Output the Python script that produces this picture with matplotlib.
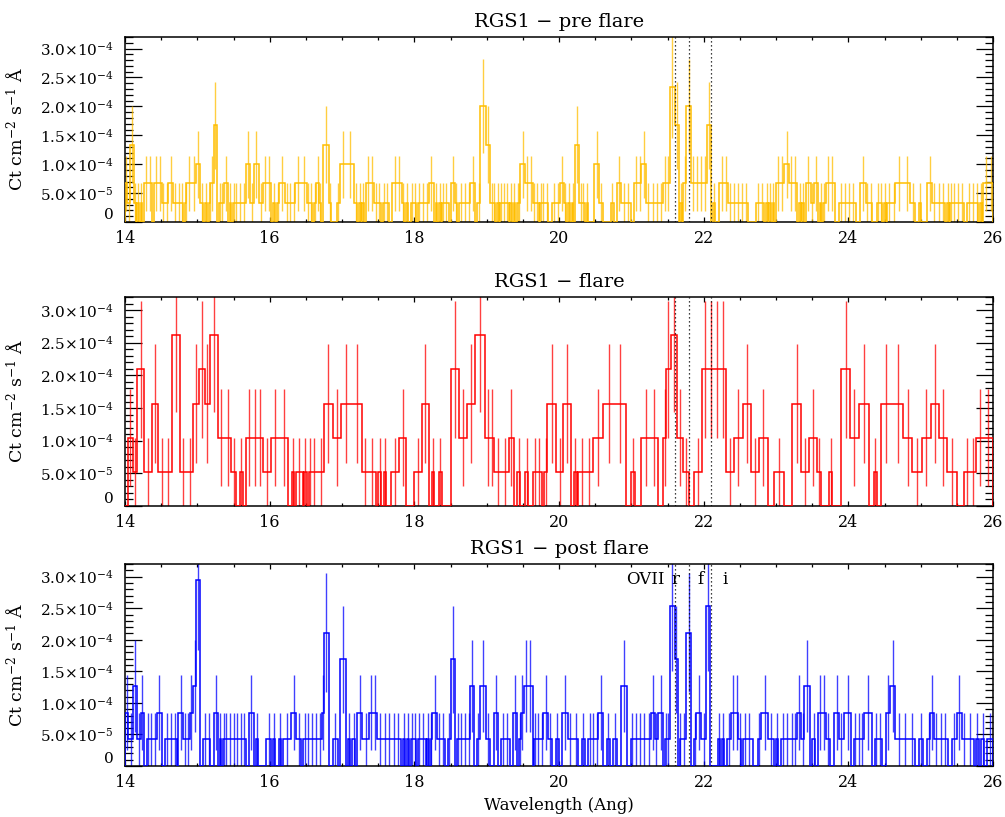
import numpy as np
import matplotlib
matplotlib.use("Agg")
import matplotlib.pyplot as plt
from matplotlib.ticker import MultipleLocator

plt.rcParams['font.family'] = ['DejaVu Serif']
plt.rcParams['mathtext.fontset'] = 'dejavuserif'

# Flux carried by a single detected count in each interval
pre_unit = 3.34e-5
flare_unit = 5.23e-5
post_unit = 4.22e-5
wave_max = 26.0

# ---- RGS1 pre flare: bin left edges (Ang) and counts per bin ----
pre_left = [
    14.000, 14.032, 14.069, 14.124, 14.147, 14.170, 14.193, 14.216, 14.239, 14.262,
    14.321, 14.376, 14.404, 14.455, 14.505, 14.551, 14.597, 14.666, 14.721, 14.776,
    14.803, 14.826, 14.849, 14.918, 14.987, 15.042, 15.079, 15.107, 15.134, 15.157,
    15.180, 15.226, 15.272, 15.295, 15.318, 15.364, 15.423, 15.446, 15.469, 15.492,
    15.515, 15.566, 15.616, 15.667, 15.722, 15.777, 15.850, 15.905, 15.960, 16.020,
    16.043, 16.071, 16.098, 16.126, 16.218, 16.264, 16.309, 16.355, 16.433, 16.511,
    16.548, 16.585, 16.612, 16.640, 16.686, 16.713, 16.741, 16.815, 16.842, 16.870,
    16.925, 16.971, 17.067, 17.168, 17.214, 17.237, 17.260, 17.283, 17.306, 17.329,
    17.384, 17.444, 17.489, 17.535, 17.567, 17.604, 17.650, 17.696, 17.760, 17.825,
    17.857, 17.889, 17.916, 17.949, 17.995, 18.027, 18.055, 18.087, 18.146, 18.201,
    18.270, 18.293, 18.316, 18.339, 18.362, 18.385, 18.408, 18.477, 18.509, 18.569,
    18.596, 18.624, 18.674, 18.725, 18.775, 18.835, 18.867, 18.913, 18.991, 19.051,
    19.083, 19.120, 19.143, 19.166, 19.189, 19.211, 19.257, 19.303, 19.326, 19.349,
    19.372, 19.395, 19.418, 19.441, 19.464, 19.533, 19.583, 19.634, 19.675, 19.717,
    19.740, 19.762, 19.808, 19.854, 19.900, 19.955, 20.015, 20.075, 20.102, 20.130,
    20.153, 20.176, 20.199, 20.222, 20.281, 20.318, 20.359, 20.382, 20.405, 20.428,
    20.488, 20.552, 20.612, 20.717, 20.754, 20.795, 20.864, 20.928, 20.993, 21.039,
    21.089, 21.140, 21.209, 21.264, 21.323, 21.378, 21.438, 21.484, 21.530, 21.599,
    21.654, 21.677, 21.700, 21.714, 21.759, 21.828, 21.884, 21.939, 21.989, 22.049,
    22.104, 22.127, 22.150, 22.218, 22.278, 22.333, 22.388, 22.443, 22.498, 22.554,
    22.609, 22.723, 22.783, 22.838, 22.861, 22.884, 22.907, 22.930, 22.953, 22.976,
    22.999, 23.059, 23.114, 23.183, 23.242, 23.297, 23.320, 23.343, 23.366, 23.389,
    23.412, 23.481, 23.527, 23.582, 23.605, 23.628, 23.651, 23.688, 23.747, 23.811,
    23.871, 23.926, 23.986, 24.041, 24.101, 24.160, 24.238, 24.284, 24.330, 24.390,
    24.431, 24.468, 24.491, 24.514, 24.537, 24.597, 24.652, 24.753, 24.858, 24.927,
    24.973, 25.005, 25.088, 25.161, 25.221, 25.281, 25.340, 25.363, 25.386, 25.409,
    25.432, 25.487, 25.542, 25.593, 25.639, 25.694, 25.749, 25.799, 25.822, 25.845,
    25.868, 25.937,
]
pre_counts = [
    2, 1, 4, 1, 0, 1, 0, 1, 0, 2,
    2, 0, 2, 2, 1, 1, 2, 1, 1, 1,
    0, 1, 2, 2, 3, 1, 0, 1, 0, 1,
    2, 5, 0, 1, 1, 2, 0, 1, 0, 1,
    1, 1, 1, 3, 1, 3, 1, 2, 2, 0,
    1, 0, 1, 2, 1, 1, 1, 2, 2, 1,
    1, 0, 1, 2, 1, 0, 4, 1, 0, 0,
    1, 3, 3, 1, 0, 1, 0, 1, 0, 2,
    2, 1, 1, 0, 1, 1, 0, 2, 2, 1,
    0, 1, 0, 1, 1, 0, 1, 1, 1, 2,
    0, 1, 0, 1, 0, 1, 1, 0, 2, 1,
    0, 1, 1, 1, 2, 0, 1, 6, 4, 1,
    1, 0, 1, 0, 1, 1, 1, 0, 1, 0,
    1, 0, 1, 1, 3, 2, 2, 1, 1, 0,
    1, 1, 1, 0, 1, 1, 2, 1, 0, 1,
    0, 1, 0, 4, 1, 1, 0, 1, 0, 0,
    3, 1, 0, 1, 0, 2, 1, 1, 0, 2,
    2, 3, 1, 1, 1, 1, 2, 2, 7, 5,
    0, 1, 0, 2, 6, 2, 2, 2, 2, 5,
    0, 1, 0, 2, 2, 1, 1, 1, 1, 1,
    0, 1, 1, 0, 1, 0, 1, 0, 1, 0,
    2, 2, 3, 2, 2, 0, 1, 0, 1, 0,
    2, 1, 2, 0, 1, 0, 1, 2, 2, 0,
    1, 1, 1, 1, 0, 2, 1, 1, 0, 1,
    1, 0, 1, 0, 1, 1, 2, 2, 1, 0,
    1, 0, 2, 1, 1, 1, 0, 1, 0, 1,
    1, 1, 1, 0, 1, 1, 1, 0, 1, 0,
    2, 2,
]

# ---- RGS1 flare ----
flare_left = [
    14.000, 14.037, 14.115, 14.170, 14.262, 14.367, 14.459, 14.551, 14.643, 14.758,
    14.849, 14.941, 15.019, 15.102, 15.171, 15.286, 15.377, 15.469, 15.538, 15.584,
    15.630, 15.676, 15.754, 15.832, 15.905, 16.020, 16.135, 16.250, 16.309, 16.337,
    16.365, 16.456, 16.479, 16.511, 16.539, 16.571, 16.663, 16.755, 16.870, 16.984,
    17.127, 17.274, 17.370, 17.466, 17.503, 17.535, 17.581, 17.613, 17.673, 17.788,
    17.889, 17.994, 18.100, 18.201, 18.238, 18.270, 18.339, 18.384, 18.500, 18.614,
    18.729, 18.835, 18.982, 19.050, 19.105, 19.202, 19.303, 19.372, 19.418, 19.464,
    19.533, 19.578, 19.647, 19.693, 19.762, 19.799, 19.840, 19.955, 20.061, 20.162,
    20.212, 20.244, 20.267, 20.368, 20.473, 20.611, 20.767, 20.923, 20.992, 21.047,
    21.139, 21.253, 21.368, 21.437, 21.483, 21.543, 21.630, 21.713, 21.804, 21.873,
    21.974, 22.057, 22.139, 22.222, 22.309, 22.424, 22.539, 22.653, 22.768, 22.883,
    22.975, 23.113, 23.227, 23.342, 23.457, 23.562, 23.618, 23.732, 23.778, 23.902,
    24.022, 24.146, 24.283, 24.352, 24.398, 24.448, 24.604, 24.760, 24.884, 25.022,
    25.136, 25.251, 25.366, 25.504, 25.596, 25.687, 25.770, 25.871,
]
flare_counts = [
    0, 2, 1, 4, 1, 3, 1, 1, 5, 1,
    1, 3, 4, 3, 5, 2, 2, 1, 0, 1,
    0, 2, 2, 2, 1, 2, 2, 0, 1, 0,
    1, 0, 1, 0, 1, 1, 1, 3, 2, 3,
    3, 1, 1, 0, 1, 0, 1, 0, 1, 2,
    0, 1, 3, 0, 1, 0, 1, 0, 4, 2,
    3, 5, 2, 2, 1, 1, 2, 0, 1, 0,
    1, 0, 1, 1, 0, 1, 3, 1, 3, 0,
    1, 0, 1, 1, 2, 3, 3, 0, 1, 0,
    2, 2, 0, 2, 4, 5, 2, 1, 0, 1,
    4, 4, 4, 4, 1, 2, 3, 1, 2, 0,
    1, 0, 3, 1, 2, 1, 0, 1, 0, 4,
    2, 3, 0, 1, 0, 3, 3, 2, 1, 2,
    3, 2, 1, 0, 1, 1, 2, 2,
]

# ---- RGS1 post flare ----
post_left = [
    14.000, 14.046, 14.115, 14.161, 14.216, 14.262, 14.298, 14.335, 14.386, 14.436,
    14.505, 14.551, 14.606, 14.657, 14.712, 14.735, 14.803, 14.849, 14.895, 14.941,
    14.987, 15.042, 15.079, 15.129, 15.180, 15.226, 15.281, 15.309, 15.331, 15.354,
    15.377, 15.428, 15.478, 15.529, 15.579, 15.630, 15.667, 15.713, 15.781, 15.813,
    15.841, 15.951, 16.020, 16.052, 16.080, 16.126, 16.158, 16.181, 16.296, 16.365,
    16.433, 16.466, 16.502, 16.557, 16.612, 16.668, 16.723, 16.755, 16.815, 16.870,
    16.939, 16.971, 17.053, 17.080, 17.108, 17.145, 17.173, 17.214, 17.283, 17.375,
    17.430, 17.489, 17.558, 17.623, 17.687, 17.751, 17.811, 17.843, 17.870, 17.898,
    17.926, 17.953, 17.995, 18.027, 18.055, 18.087, 18.156, 18.179, 18.201, 18.224,
    18.247, 18.316, 18.362, 18.422, 18.468, 18.500, 18.569, 18.592, 18.615, 18.670,
    18.725, 18.775, 18.830, 18.867, 18.904, 18.991, 19.051, 19.097, 19.156, 19.202,
    19.257, 19.317, 19.363, 19.423, 19.450, 19.473, 19.510, 19.570, 19.634, 19.661,
    19.684, 19.735, 19.785, 19.854, 19.909, 19.955, 20.001, 20.047, 20.120, 20.194,
    20.267, 20.313, 20.359, 20.405, 20.451, 20.497, 20.543, 20.612, 20.658, 20.704,
    20.749, 20.795, 20.864, 20.947, 20.993, 21.039, 21.094, 21.149, 21.209, 21.268,
    21.323, 21.369, 21.438, 21.461, 21.484, 21.539, 21.599, 21.645, 21.668, 21.691,
    21.759, 21.828, 21.861, 21.897, 21.966, 22.035, 22.094, 22.195, 22.223, 22.251,
    22.278, 22.324, 22.379, 22.430, 22.480, 22.517, 22.549, 22.586, 22.678, 22.746,
    22.792, 22.893, 22.967, 22.999, 23.026, 23.068, 23.127, 23.187, 23.242, 23.288,
    23.352, 23.389, 23.472, 23.504, 23.541, 23.582, 23.637, 23.688, 23.747, 23.802,
    23.871, 23.940, 24.041, 24.078, 24.114, 24.170, 24.216, 24.330, 24.362, 24.399,
    24.468, 24.514, 24.574, 24.652, 24.743, 24.835, 24.927, 24.973, 25.028, 25.088,
    25.134, 25.189, 25.248, 25.308, 25.372, 25.432, 25.501, 25.570, 25.639, 25.731,
    25.767, 25.804, 25.841, 25.878, 25.914,
]
post_counts = [
    2, 1, 3, 1, 2, 0, 1, 1, 1, 2,
    0, 1, 1, 1, 0, 2, 1, 1, 2, 3,
    7, 0, 1, 1, 0, 2, 0, 1, 0, 1,
    1, 1, 1, 1, 1, 1, 0, 2, 0, 1,
    0, 1, 0, 1, 0, 1, 0, 1, 2, 1,
    0, 1, 1, 1, 1, 1, 2, 5, 0, 1,
    0, 4, 0, 1, 0, 1, 0, 2, 1, 2,
    2, 1, 1, 1, 1, 1, 0, 1, 0, 1,
    0, 1, 1, 0, 1, 1, 0, 1, 0, 1,
    2, 1, 1, 0, 1, 4, 0, 1, 1, 1,
    1, 3, 0, 1, 3, 1, 0, 2, 0, 1,
    1, 0, 2, 0, 1, 2, 3, 3, 0, 1,
    1, 1, 2, 1, 0, 1, 0, 2, 1, 1,
    0, 1, 0, 1, 1, 1, 2, 0, 1, 0,
    1, 0, 3, 0, 1, 1, 1, 1, 1, 2,
    1, 2, 0, 1, 1, 6, 4, 0, 1, 1,
    5, 0, 1, 2, 1, 6, 0, 1, 0, 1,
    0, 1, 2, 2, 1, 0, 1, 1, 0, 1,
    2, 1, 0, 1, 0, 1, 1, 1, 1, 2,
    1, 3, 0, 1, 0, 2, 2, 1, 0, 2,
    1, 2, 0, 1, 1, 1, 2, 0, 1, 1,
    0, 2, 3, 1, 1, 1, 0, 1, 0, 1,
    2, 1, 1, 1, 0, 1, 2, 1, 1, 0,
    1, 0, 1, 0, 1,
]

# O VII triplet rest wavelengths and their labels
ovii_lines = [21.60, 21.80, 22.10]
ovii_label_x = [21.19, 21.61, 21.95, 22.29]
ovii_label_text = ["OVII", "r", "f", "i"]

panel_titles = ["RGS1 \u2212 pre flare", "RGS1 \u2212 flare", "RGS1 \u2212 post flare"]
panel_colors = ["#FFBE00", "#FF0000", "#0000FF"]

ytick_vals = [0, 5e-5, 1e-4, 1.5e-4, 2e-4, 2.5e-4, 3e-4]
ytick_labels = ["0", "5.0\u00d710$^{-5}$", "1.0\u00d710$^{-4}$",
                "1.5\u00d710$^{-4}$", "2.0\u00d710$^{-4}$",
                "2.5\u00d710$^{-4}$", "3.0\u00d710$^{-4}$"]

W, H = 1005, 817
fig = plt.figure(figsize=(W / 100, H / 100), dpi=100)

# axes boxes in pixels: (top, bottom)
boxes = [(37, 222), (297, 506), (564, 766)]
x0, x1 = 125, 993

datasets = [
    (pre_left, pre_counts, pre_unit),
    (flare_left, flare_counts, flare_unit),
    (post_left, post_counts, post_unit),
]

for i, ((top, bot), (left, counts, unit)) in enumerate(zip(boxes, datasets)):
    assert len(left) == len(counts)
    ax = fig.add_axes([x0 / W, 1 - bot / H, (x1 - x0) / W, (bot - top) / H])
    color = panel_colors[i]

    edges = np.append(np.asarray(left, float), wave_max)
    n = np.asarray(counts, float)
    flux = n * unit
    err = np.sqrt(n) * unit
    centers = 0.5 * (edges[:-1] + edges[1:])
    has = n > 0
    ax.vlines(centers[has], (flux - err)[has], (flux + err)[has],
              color=color, lw=1.0, alpha=0.75, zorder=2)
    ax.stairs(flux, edges, color=color, lw=1.1, zorder=3)

    for xl in ovii_lines:
        ax.axvline(xl, color="black", lw=0.9, ls=(0, (1, 2.2)), zorder=4)

    ax.set_xlim(14, 26)
    ax.set_ylim(0, 3.2e-4)
    ax.xaxis.set_major_locator(MultipleLocator(2))
    ax.xaxis.set_minor_locator(MultipleLocator(0.5))
    ax.set_yticks(ytick_vals)
    ax.set_yticklabels(ytick_labels)
    ax.yaxis.set_minor_locator(MultipleLocator(1e-5))
    ax.tick_params(which="both", direction="in", top=True, right=True,
                   width=0.9, colors="black")
    ax.tick_params(axis="y", which="major", length=12, pad=8, labelsize=11)
    ax.tick_params(axis="y", which="minor", length=6)
    ax.tick_params(axis="x", which="major", length=3.5, pad=6, labelsize=11.5)
    ax.tick_params(axis="x", which="minor", length=2)
    for sp in ax.spines.values():
        sp.set_linewidth(1.1)
    ax.get_yticklabels()[0].set_verticalalignment("bottom")

    ax.set_ylabel("Ct cm$^{-2}$ s$^{-1}$ \u00c5", fontsize=12.5)
    ax.yaxis.set_label_coords(-0.113, 0.5)

    ax.annotate(panel_titles[i], xy=(0.5, 1.0), xycoords="axes fraction",
                xytext=(0, 11), textcoords="offset points",
                ha="center", va="center", fontsize=14)

    if i == 2:
        ax.set_xlabel("Wavelength (Ang)", fontsize=12, labelpad=4)
        for xt, tt in zip(ovii_label_x, ovii_label_text):
            ax.text(xt, 2.96e-4, tt, ha="center", va="center", fontsize=12)

fig.savefig("out.png", dpi=100)
